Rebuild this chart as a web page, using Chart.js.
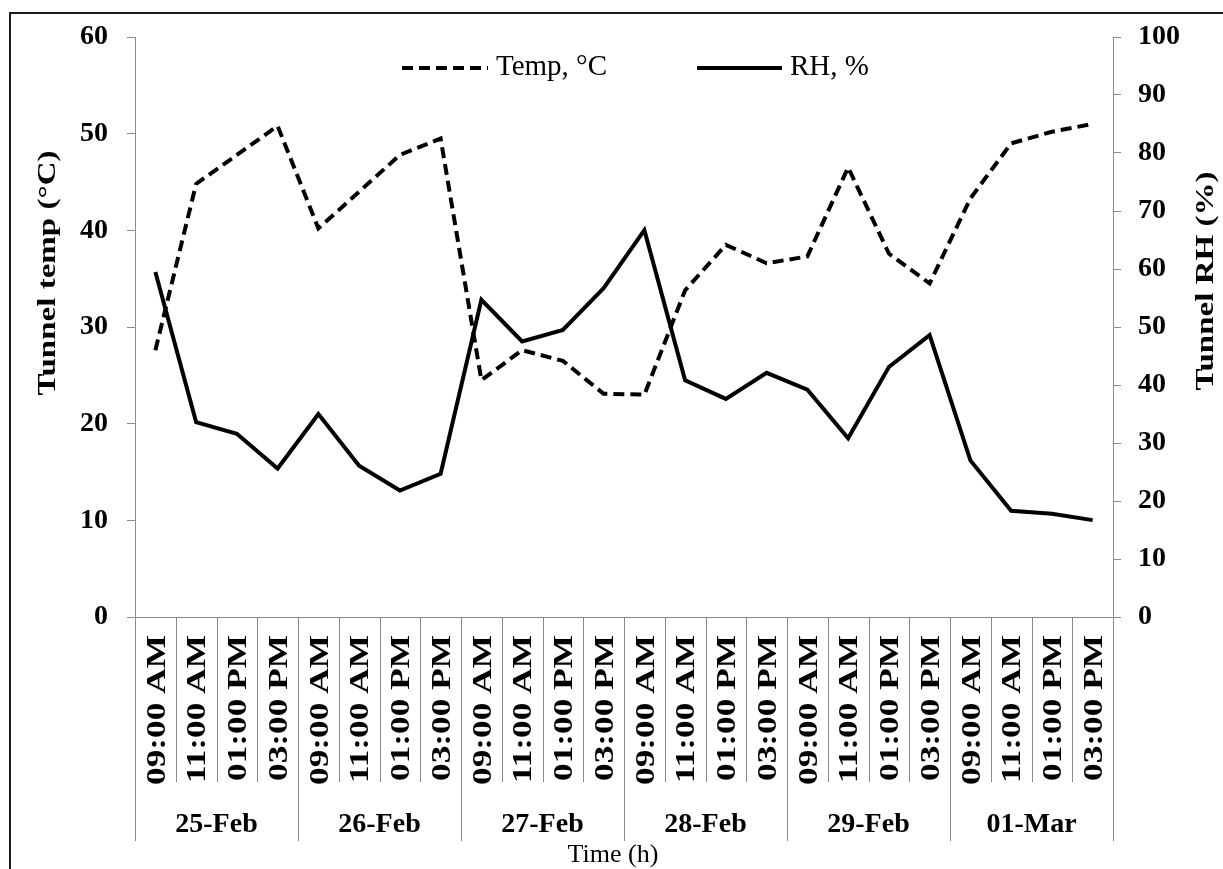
<!DOCTYPE html>
<html>
<head>
<meta charset="utf-8">
<title>Tunnel temperature and relative humidity</title>
<script src="https://cdn.jsdelivr.net/npm/chart.js@4.4.1/dist/chart.umd.min.js"></script>
<style>
  html, body { margin: 0; padding: 0; background: #fff; }
  #wrap { width: 1223px; height: 869px; position: relative; }
</style>
</head>
<body>
<div id="wrap"><canvas id="c" width="1223" height="869"></canvas></div>
<script>
// Sampling days and the four daily reading times
const days = ['25-Feb', '26-Feb', '27-Feb', '28-Feb', '29-Feb', '01-Mar'];
const times = ['09:00 AM', '11:00 AM', '01:00 PM', '03:00 PM'];

// Tunnel air temperature, °C (one value per reading)
const tempC = [
  27.6, 44.8, 47.8, 50.8,
  40.2, 44.0, 47.8, 49.5,
  24.5, 27.6, 26.5, 23.1,
  23.0, 33.8, 38.5, 36.6,
  37.3, 46.5, 37.6, 34.5,
  43.3, 49.0, 50.2, 51.0
];

// Tunnel relative humidity, %
const rhPct = [
  59.5, 33.6, 31.6, 25.6,
  35.0, 26.1, 21.8, 24.7,
  54.7, 47.5, 49.5, 56.7,
  66.7, 40.8, 37.6, 42.1,
  39.2, 30.8, 43.1, 48.6,
  27.0, 18.3, 17.8, 16.7
];

// Axis tick values
const tempTicks = [0, 10, 20, 30, 40, 50, 60];
const rhTicks = [0, 10, 20, 30, 40, 50, 60, 70, 80, 90, 100];

const labels = days.flatMap(d => times.map(t => t));

const SERIF = '"Liberation Serif", "Times New Roman", Times, serif';
const AXIS = '#8a8a8a';
const INK = '#000';

// Frame, category grid, two-level labels, axis titles and legend
const decor = {
  id: 'decor',
  beforeDraw(chart) {
    const ctx = chart.ctx;
    ctx.save();
    ctx.fillStyle = '#fff';
    ctx.fillRect(0, 0, chart.width, chart.height);
    ctx.strokeStyle = '#1a1a1a';
    ctx.lineWidth = 2;
    ctx.beginPath();
    ctx.moveTo(10, chart.height);
    ctx.lineTo(10, 13);
    ctx.lineTo(chart.width, 13);
    ctx.stroke();
    ctx.restore();
  },
  afterDraw(chart) {
    const ctx = chart.ctx;
    const a = chart.chartArea;
    const x = chart.scales.x;
    const n = chart.data.labels.length;
    const per = times.length;
    const edge = i => i === 0 ? x.left : i === n ? x.right
      : (x.getPixelForValue(i - 1) + x.getPixelForValue(i)) / 2;

    ctx.save();
    // category separators below the axis
    ctx.strokeStyle = AXIS;
    ctx.lineWidth = 1;
    for (let i = 0; i <= n; i++) {
      const px = Math.round(edge(i)) + 0.5;
      const bottom = a.bottom + (i % per === 0 ? 224 : 165);
      ctx.beginPath();
      ctx.moveTo(px, a.bottom);
      ctx.lineTo(px, bottom);
      ctx.stroke();
    }

    // reading times, vertical
    ctx.fillStyle = INK;
    ctx.font = 'bold 28px ' + SERIF;
    ctx.textAlign = 'right';
    ctx.textBaseline = 'middle';
    for (let i = 0; i < n; i++) {
      const cx = x.getPixelForValue(i);
      ctx.save();
      ctx.translate(cx + 2, a.bottom + 18);
      ctx.rotate(-Math.PI / 2);
      ctx.scale(1.26, 1);
      ctx.fillText(chart.data.labels[i], 0, 0);
      ctx.restore();
    }

    // day groups
    ctx.textAlign = 'center';
    ctx.textBaseline = 'alphabetic';
    days.forEach((d, g) => {
      const cx = (edge(g * per) + edge((g + 1) * per)) / 2;
      ctx.fillText(d, cx, a.bottom + 215);
    });

    // x axis title
    ctx.font = '26px ' + SERIF;
    ctx.fillText('Time (h)', 613, 862);

    // y axis titles
    ctx.font = 'bold 26px ' + SERIF;
    ctx.save();
    ctx.translate(55, 273);
    ctx.rotate(-Math.PI / 2);
    ctx.scale(1.27, 1);
    ctx.fillText('Tunnel temp (°C)', 0, 0);
    ctx.restore();
    ctx.save();
    ctx.translate(1213, 281);
    ctx.rotate(-Math.PI / 2);
    ctx.scale(1.27, 1);
    ctx.fillText('Tunnel RH (%)', 0, 0);
    ctx.restore();

    // legend
    const items = [
      { ds: chart.data.datasets[0], x0: 402, x1: 488 },
      { ds: chart.data.datasets[1], x0: 697, x1: 782 }
    ];
    ctx.font = '29px ' + SERIF;
    ctx.textAlign = 'left';
    ctx.textBaseline = 'middle';
    items.forEach(it => {
      ctx.save();
      ctx.strokeStyle = it.ds.borderColor;
      ctx.lineWidth = it.ds.borderWidth;
      ctx.setLineDash(it.ds.borderDash || []);
      ctx.beginPath();
      ctx.moveTo(it.x0, 68);
      ctx.lineTo(it.x1, 68);
      ctx.stroke();
      ctx.restore();
      ctx.fillText(it.ds.label, it.x1 + 8, 67);
    });
    ctx.restore();
  }
};

const tickFont = { family: SERIF, size: 28, weight: 'bold' };

new Chart(document.getElementById('c'), {
  type: 'line',
  data: {
    labels: labels,
    datasets: [
      {
        label: 'Temp, °C',
        data: tempC,
        yAxisID: 'y',
        borderColor: INK,
        borderWidth: 4,
        borderDash: [11, 6],
        pointRadius: 0,
        tension: 0,
        fill: false
      },
      {
        label: 'RH, %',
        data: rhPct,
        yAxisID: 'y1',
        borderColor: INK,
        borderWidth: 4,
        pointRadius: 0,
        tension: 0,
        fill: false
      }
    ]
  },
  options: {
    responsive: false,
    animation: false,
    devicePixelRatio: 1,
    layout: { padding: { top: 37, left: 0, right: 0, bottom: 0 } },
    plugins: { legend: { display: false }, tooltip: { enabled: false } },
    scales: {
      x: {
        type: 'category',
        offset: true,
        ticks: { display: false },
        grid: { display: false },
        border: { display: true, color: AXIS, width: 1 },
        afterFit(s) { s.height = 252; }
      },
      y: {
        position: 'left',
        min: tempTicks[0],
        max: tempTicks[tempTicks.length - 1],
        ticks: { stepSize: tempTicks[1] - tempTicks[0], color: INK, font: tickFont, padding: 19 },
        grid: { drawOnChartArea: false, drawTicks: true, tickLength: 8, color: AXIS },
        border: { display: true, color: AXIS, width: 1 },
        afterFit(s) { s.width = 135; }
      },
      y1: {
        position: 'right',
        min: rhTicks[0],
        max: rhTicks[rhTicks.length - 1],
        ticks: { stepSize: rhTicks[1] - rhTicks[0], color: INK, font: tickFont, padding: 17 },
        grid: { drawOnChartArea: false, drawTicks: true, tickLength: 8, color: AXIS },
        border: { display: true, color: AXIS, width: 1 },
        afterFit(s) { s.width = 110; }
      }
    }
  },
  plugins: [decor]
});
</script>
</body>
</html>
